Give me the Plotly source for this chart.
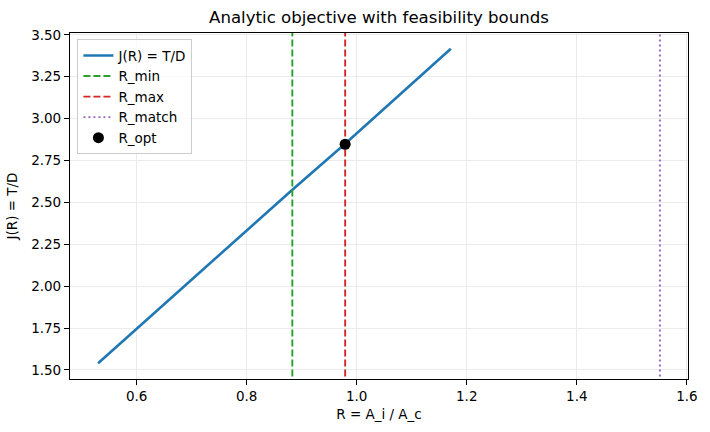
import plotly.graph_objects as go

# Data
R_vals = [0.53, 0.70, 0.88, 0.979, 1.171]
J_vals = [1.54, 2.04, 2.567, 2.85, 3.417]
R_min = 0.883
R_max = 0.979
R_match = 1.551
R_opt = 0.979
J_opt = 2.847

x_ticks = [0.6, 0.8, 1.0, 1.2, 1.4, 1.6]
y_ticks = [1.50, 1.75, 2.00, 2.25, 2.50, 2.75, 3.00, 3.25, 3.50]

# matplotlib-like 5% margins
xlo_d, xhi_d = min(R_vals + [R_min, R_max, R_match]), max(R_vals + [R_min, R_max, R_match])
ylo_d, yhi_d = min(J_vals), max(J_vals)
xr = [xlo_d - 0.05 * (xhi_d - xlo_d), xhi_d + 0.05 * (xhi_d - xlo_d)]
yr = [ylo_d - 0.05 * (yhi_d - ylo_d), yhi_d + 0.05 * (yhi_d - ylo_d)]

FS = 13.5

fig = go.Figure()
fig.add_trace(go.Scatter(x=R_vals, y=J_vals, mode="lines", name="J(R) = T/D",
                         line=dict(color="#1f77b4", width=2.6)))
fig.add_trace(go.Scatter(x=[R_min, R_min], y=[yr[0] - 1, yr[1] + 1], mode="lines", name="R_min",
                         line=dict(color="#2ca02c", width=1.9, dash="7px,3px")))
fig.add_trace(go.Scatter(x=[R_max, R_max], y=[yr[0] - 1, yr[1] + 1], mode="lines", name="R_max",
                         line=dict(color="#d62728", width=1.9, dash="7px,3px")))
fig.add_trace(go.Scatter(x=[R_match, R_match], y=[yr[0] - 1, yr[1] + 1], mode="lines", name="R_match",
                         line=dict(color="#9467bd", width=1.9, dash="2px,3px")))
fig.add_trace(go.Scatter(x=[R_opt], y=[J_opt], mode="markers", name="R_opt",
                         marker=dict(color="black", size=11)))

fig.update_layout(
    width=710, height=432,
    margin=dict(l=70, r=18, t=33, b=53),
    paper_bgcolor="white", plot_bgcolor="white",
    font=dict(family="DejaVu Sans", size=FS, color="black"),
    title=dict(text="Analytic objective with feasibility bounds", x=0.5, xanchor="center",
               xref="paper", y=1 - 17 / 432, yanchor="middle", font=dict(size=16.6)),
    showlegend=True,
    legend=dict(x=0.012, y=0.982, xanchor="left", yanchor="top",
                bordercolor="#cccccc", borderwidth=1, bgcolor="rgba(255,255,255,0.8)",
                font=dict(size=FS), tracegroupgap=0, itemwidth=30),
)
fig.update_xaxes(range=xr, tickvals=x_ticks, ticktext=[f"{v:.1f}" for v in x_ticks],
                 tickfont=dict(size=FS),
                 showgrid=True, gridcolor="#ebebeb", gridwidth=1,
                 showline=True, linecolor="black", linewidth=1.2, mirror=True,
                 ticks="outside", ticklen=5, tickcolor="black", zeroline=False,
                 title=dict(text="R = A_i / A_c", standoff=6, font=dict(size=FS)))
fig.update_yaxes(range=yr, tickvals=y_ticks, ticktext=[f"{v:.2f}" for v in y_ticks],
                 tickfont=dict(size=FS),
                 showgrid=True, gridcolor="#ebebeb", gridwidth=1,
                 showline=True, linecolor="black", linewidth=1.2, mirror=True,
                 ticks="outside", ticklen=5, tickcolor="black", zeroline=False,
                 title=dict(text="J(R) = T/D", standoff=10, font=dict(size=FS)))

fig.write_html("out.html")
